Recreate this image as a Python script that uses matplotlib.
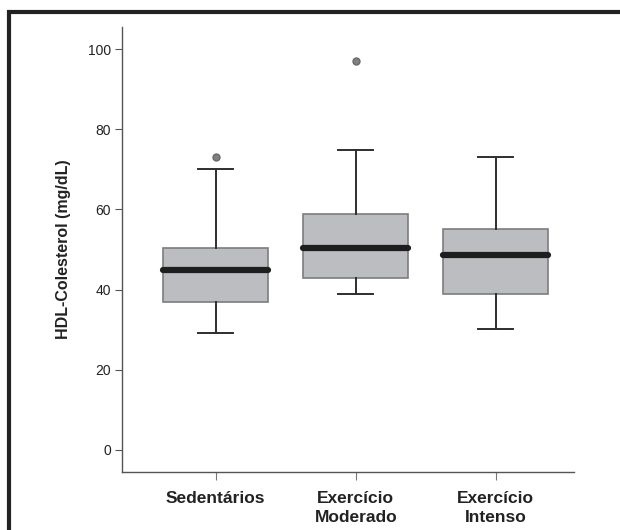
import matplotlib.pyplot as plt
from matplotlib.patches import Rectangle

plt.rcParams['font.family'] = ['Liberation Sans', 'DejaVu Sans']

# Dados
grupos = ["Sedentários", "Exercício\nModerado", "Exercício\nIntenso"]
q1 = [37.0, 42.8, 38.9]
medianas = [44.9, 50.4, 48.6]
q3 = [50.5, 58.9, 55.0]
bigodes_inf = [29.1, 38.8, 30.2]
bigodes_sup = [70.0, 74.8, 73.0]
outliers = [[73.0], [97.0], []]

stats = []
for i in range(len(grupos)):
    stats.append({
        "label": grupos[i],
        "q1": q1[i], "med": medianas[i], "q3": q3[i],
        "whislo": bigodes_inf[i], "whishi": bigodes_sup[i],
        "fliers": outliers[i],
    })

fig = plt.figure(figsize=(6.2, 5.3), dpi=100)
ax = fig.add_axes([0.197, 0.1094, 0.729, 0.8396])

ax.bxp(stats, positions=[1, 2, 3], widths=0.75, patch_artist=True,
       boxprops=dict(facecolor='#bcbdc0', edgecolor='#7d7d7d', linewidth=1.2),
       medianprops=dict(color='#1e1e1e', linewidth=4.5, solid_capstyle='round'),
       whiskerprops=dict(color='#2e2e2e', linewidth=1.4),
       capprops=dict(color='#2e2e2e', linewidth=1.4),
       capwidths=0.25,
       flierprops=dict(marker='o', markerfacecolor='#808080', markeredgecolor='#6a6a6a',
                       markersize=5))

ax.set_xlim(0.332, 3.56)
ax.set_ylim(-5.5, 105.5)
ax.set_yticks([0, 20, 40, 60, 80, 100])
ax.set_xticks([1, 2, 3])
ax.set_xticklabels(grupos, fontsize=12.5, fontweight='bold', color='#222222', linespacing=1.3)
ax.set_ylabel('HDL-Colesterol (mg/dL)', fontsize=11.5, fontweight='bold', color='#222222', labelpad=12)

for s in ['top', 'right']:
    ax.spines[s].set_visible(False)
for s in ['left', 'bottom']:
    ax.spines[s].set_color('#555555')
    ax.spines[s].set_linewidth(1.0)
ax.tick_params(axis='y', labelsize=10, colors='#555555', labelcolor='#222222', length=5, pad=3)
ax.tick_params(axis='x', colors='#777777', labelcolor='#222222', length=6, pad=8)

# moldura da figura
fig.patches.append(Rectangle((9 / 620, -0.1), 1.2, 1 - 12 / 530 + 0.1, transform=fig.transFigure,
                             fill=False, edgecolor='#222222', linewidth=3))

fig.savefig('out.png', dpi=100)
